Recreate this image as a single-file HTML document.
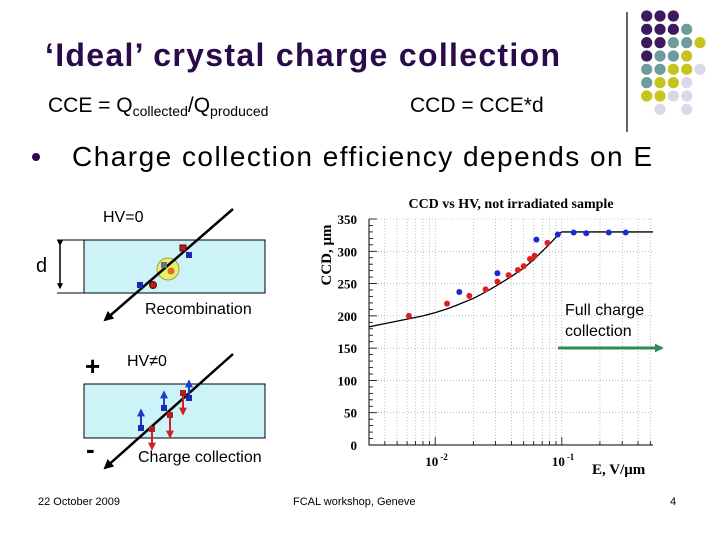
<!DOCTYPE html>
<html><head><meta charset="utf-8"><style>
html,body{margin:0;padding:0;background:#fff;}
svg{display:block;font-family:"Liberation Sans",sans-serif;}
</style></head><body>
<svg id="s" width="720" height="540" viewBox="0 0 720 540" xmlns="http://www.w3.org/2000/svg">
<defs>
<marker id="ah" viewBox="0 0 10 10" refX="8" refY="5" markerWidth="4" markerHeight="4" orient="auto"><path d="M0,0L10,5L0,10z" fill="#000"/></marker>
<marker id="ahb" viewBox="0 0 10 10" refX="8" refY="5" markerWidth="4" markerHeight="4" orient="auto"><path d="M0,0L10,5L0,10z" fill="#1a3ad0"/></marker>
<marker id="ahr" viewBox="0 0 10 10" refX="8" refY="5" markerWidth="4" markerHeight="4" orient="auto"><path d="M0,0L10,5L0,10z" fill="#d02020"/></marker>
<marker id="ahg" viewBox="0 0 10 10" refX="8" refY="5" markerWidth="3" markerHeight="3" orient="auto"><path d="M0,0L10,5L0,10z" fill="#2e8b57"/></marker>
</defs>
<text x="45" y="66" font-size="32" font-weight="bold" fill="#2a0a4a" textLength="515">‘Ideal’ crystal charge collection</text>
<line x1="627" y1="12" x2="627" y2="132" stroke="#000" stroke-width="1.2"/>
<g id="dots"></g>
<text x="48" y="112" font-size="21" fill="#000">CCE = Q<tspan font-size="14" dy="4">collected</tspan><tspan dy="-4">/Q</tspan><tspan font-size="14" dy="4">produced</tspan></text>
<text x="410" y="112" font-size="21" fill="#000">CCD = CCE*d</text>
<circle cx="36" cy="157" r="4" fill="#2a0a4a"/>
<text x="72" y="166" font-size="28" fill="#000" textLength="580">Charge collection efficiency depends on E</text>

<g>
<text x="103" y="222" font-size="16">HV=0</text>
<rect x="84" y="240" width="181" height="53" fill="#ccf3f8" stroke="#000" stroke-width="1"/>
<line x1="57" y1="240" x2="84" y2="240" stroke="#000"/><line x1="57" y1="293" x2="84" y2="293" stroke="#000"/>
<line x1="60" y1="245" x2="60" y2="288" stroke="#000" stroke-width="1.5" marker-start="url(#ah)" marker-end="url(#ah)"/>
<text x="36" y="272" font-size="20">d</text>
<circle cx="168" cy="269" r="11" fill="#e8f070" stroke="#a0a040"/>
<line x1="233" y1="209" x2="105" y2="320" stroke="#000" stroke-width="2.5" marker-end="url(#ah)"/>
<rect x="180" y="245" width="6" height="6" fill="#b02020" stroke="#600"/><rect x="186" y="252" width="6" height="6" fill="#1a2ab0"/>
<rect x="161" y="262" width="6" height="6" fill="#707070"/><circle cx="171" cy="271" r="3.5" fill="#e07020"/>
<rect x="137" y="282" width="6" height="6" fill="#1a2ab0"/><circle cx="153" cy="285" r="3.5" fill="#b02020" stroke="#600"/>
<text x="145" y="314" font-size="16">Recombination</text>
</g>

<g>
<text x="85" y="375" font-size="26" font-weight="bold">+</text>
<text x="127" y="366" font-size="16">HV≠0</text>
<rect x="84" y="384" width="181" height="54" fill="#ccf3f8" stroke="#000" stroke-width="1"/>
<text x="86" y="458" font-size="26" font-weight="bold">-</text>
<line x1="233" y1="354" x2="105" y2="468" stroke="#000" stroke-width="2.5" marker-end="url(#ah)"/>
<g stroke-width="2">
<line x1="189" y1="398" x2="189" y2="381" stroke="#1a3ad0" marker-end="url(#ahb)"/>
<line x1="164" y1="408" x2="164" y2="392" stroke="#1a3ad0" marker-end="url(#ahb)"/>
<line x1="141" y1="428" x2="141" y2="410" stroke="#1a3ad0" marker-end="url(#ahb)"/>
<line x1="183" y1="393" x2="183" y2="414" stroke="#d02020" marker-end="url(#ahr)"/>
<line x1="170" y1="415" x2="170" y2="437" stroke="#d02020" marker-end="url(#ahr)"/>
<line x1="152" y1="429" x2="152" y2="449" stroke="#d02020" marker-end="url(#ahr)"/>
</g>
<rect x="186" y="395" width="6" height="6" fill="#1a2ab0"/><rect x="180" y="390" width="6" height="6" fill="#b02020"/>
<rect x="161" y="405" width="6" height="6" fill="#1a2ab0"/><rect x="167" y="412" width="6" height="6" fill="#b02020"/>
<rect x="138" y="425" width="6" height="6" fill="#1a2ab0"/><rect x="149" y="426" width="6" height="6" fill="#b02020"/>
<text x="138" y="462" font-size="16">Charge collection</text>
</g>

<g id="chart" font-family="Liberation Serif, serif" font-weight="bold"></g>
<text x="565" y="315" font-size="16">Full charge</text>
<text x="565" y="336" font-size="16">collection</text>
<line x1="558" y1="348" x2="662" y2="348" stroke="#2e8b57" stroke-width="3" marker-end="url(#ahg)"/>

<text x="38" y="505" font-size="11">22 October 2009</text>
<text x="293" y="505" font-size="11">FCAL workshop, Geneve</text>
<text x="670" y="505" font-size="11">4</text>
</svg>
<script>
const NS='http://www.w3.org/2000/svg';
const redX=[0.0062,0.0124,0.0186,0.025,0.031,0.038,0.045,0.050,0.056,0.061,0.077];
const redY=[200,219,231,241,253,263,271,277,288,293,313];
const blueX=[0.0155,0.031,0.063,0.093,0.124,0.156,0.235,0.32];
const blueY=[237,266,318,326,329,328,329,329];
const curveX=[0.003,0.004,0.006,0.008,0.01,0.0125,0.015,0.02,0.025,0.03,0.04,0.05,0.06,0.07,0.08,0.09,0.095,0.1,0.525];
const curveY=[183,188,195,200,205,211,217,227,237,246,261,274,287,300,311,322,327,330,330];
const yTicks=[0,50,100,150,200,250,300,350];
const xDecades=[0.01,0.1];
const X0=369,X1=653,Y0=445,Y1=219,XMIN=0.003,XMAX=0.525,YMAX=350;
const lx=Math.log10;
function sx(v){return X0+(lx(v)-lx(XMIN))/(lx(XMAX)-lx(XMIN))*(X1-X0);}
function sy(v){return Y0-(v/YMAX)*(Y0-Y1);}
const g=document.getElementById('chart');
function mk(t,a,p){const e=document.createElementNS(NS,t);for(const k in a)e.setAttribute(k,a[k]);(p||g).appendChild(e);return e;}
for(let d=0.001;d<1;d*=10){for(let m=1;m<10;m++){const v=d*m;if(v<XMIN||v>XMAX)continue;
const l=mk('line',{x1:sx(v),x2:sx(v),y1:Y1,y2:Y0,stroke:'#999','stroke-width':0.6,'stroke-dasharray':'1,2'});


mk('line',{x1:sx(v),x2:sx(v),y1:Y0,y2:Y0-(m===1?8:4),stroke:'#000','stroke-width':0.8});}}
for(let v=0;v<=YMAX;v+=10){if(v%50===0&&v>0){const l=mk('line',{x1:X0,x2:X1,y1:sy(v),y2:sy(v),stroke:'#999','stroke-width':0.6,'stroke-dasharray':'1,2'});

}
mk('line',{x1:X0,x2:X0+(v%50===0?8:4),y1:sy(v),y2:sy(v),stroke:'#000','stroke-width':0.8});}
const ax=mk('path',{d:`M${X0},${Y1}V${Y0}H${X1}`,fill:'none',stroke:'#000','stroke-width':1});


yTicks.forEach(v=>{const t=mk('text',{x:X0-12,y:sy(v)+5,'font-size':13,'text-anchor':'end'});t.textContent=v;

});
xDecades.forEach(v=>{const t=mk('text',{x:sx(v)-10,y:Y0+21,'font-size':13});t.textContent='10';


const s=mk('tspan',{'font-size':9,dy:-6,dx:2},t);s.textContent=String(Math.round(lx(v)));});
const tt=mk('text',{x:511,y:208,'font-size':14,'text-anchor':'middle'});tt.textContent='CCD vs HV, not irradiated sample';


const yt=mk('text',{transform:'translate(331,255) rotate(-90)','font-size':15,'text-anchor':'middle'});yt.textContent='CCD, μm';


const xt=mk('text',{x:592,y:474,'font-size':15});xt.textContent='E, V/μm';


const c=mk('polyline',{points:curveX.map((v,i)=>sx(v)+','+sy(curveY[i])).join(' '),fill:'none',stroke:'#000','stroke-width':1.3,'stroke-linejoin':'round'});


redX.forEach((v,i)=>{const p=mk('circle',{cx:sx(v),cy:sy(redY[i]),r:3,fill:'#e02020'});

});
blueX.forEach((v,i)=>{const p=mk('circle',{cx:sx(v),cy:sy(blueY[i]),r:3,fill:'#1a2ad0'});

});
const rows=['PPP..','PPPT.','PPTTY','PTTY.','TTYYL','TYYL.','YYLL.','.L.L.'];
const col={P:'#3d1a5e',T:'#6e9c9c',Y:'#c8c41e',L:'#d8d8e8'};
const dg=document.getElementById('dots');
rows.forEach((r,j)=>[...r].forEach((ch,i)=>{if(ch==='.')return;
const d=mk('circle',{cx:646.7+i*13.33,cy:16+j*13.33,r:5.6,fill:col[ch]},dg);

}));
</script>
</body></html>
